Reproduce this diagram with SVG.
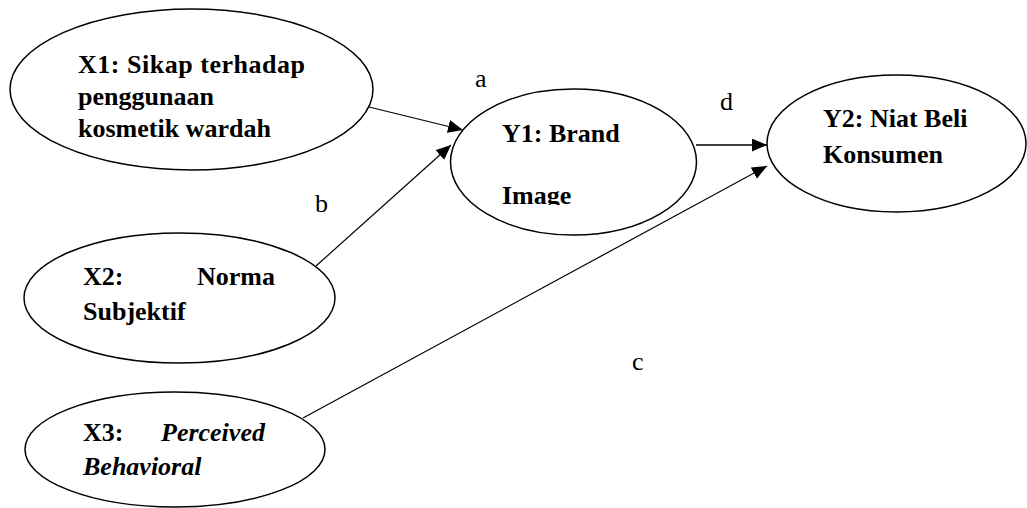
<svg xmlns="http://www.w3.org/2000/svg" width="1027" height="508" viewBox="0 0 1027 508">
<style>
  .node ellipse { fill: #ffffff; stroke: #000000; stroke-width: 1.5; }
  .t { font-family: "Liberation Serif", "Times New Roman", serif; font-size: 26px; font-weight: bold; fill: #000000; }
  .ti { font-style: italic; }
  .lbl { font-family: "Liberation Serif", "Times New Roman", serif; font-size: 26px; fill: #000000; }
  .edge { stroke: #000000; stroke-width: 1.2; fill: none; marker-end: url(#ah); }
</style>
<defs>
  <marker id="ah" markerUnits="userSpaceOnUse" markerWidth="16" markerHeight="14" refX="15" refY="6.5" orient="auto">
    <path d="M0,0 L15,6.5 L0,13 Z" fill="#000000"/>
  </marker>
  <clipPath id="clipY1">
    <rect x="450" y="100" width="246" height="105"/>
  </clipPath>
</defs>
<rect width="1027" height="508" fill="#ffffff"/>

<g id="connectors">
  <line class="edge" x1="369" y1="107" x2="463" y2="130"/>
  <line class="edge" x1="316" y1="266" x2="451" y2="145"/>
  <line class="edge" x1="303" y1="418" x2="767" y2="166"/>
  <line class="edge" x1="696" y1="145" x2="767" y2="145" style="stroke-width:1.5"/>
</g>

<g id="node-x1" class="node">
  <ellipse cx="191.5" cy="89.5" rx="181.5" ry="80.5"/>
  <text class="t" x="78" y="73" textLength="227" lengthAdjust="spacing">X1: Sikap terhadap</text>
  <text class="t" x="78" y="105">penggunaan</text>
  <text class="t" x="78" y="136.5">kosmetik wardah</text>
</g>

<g id="node-x2" class="node">
  <ellipse cx="179.5" cy="298" rx="155.5" ry="65"/>
  <text class="t" y="285"><tspan x="83">X2:</tspan><tspan x="197">Norma</tspan></text>
  <text class="t" x="83" y="320">Subjektif</text>
</g>

<g id="node-x3" class="node">
  <ellipse cx="175" cy="449.5" rx="150" ry="57.5"/>
  <text class="t" y="440.5"><tspan x="83">X3:</tspan><tspan x="161" class="ti">Perceived</tspan></text>
  <text class="t ti" x="83" y="475">Behavioral</text>
</g>

<g id="node-y1" class="node">
  <ellipse cx="573.5" cy="162" rx="123" ry="73"/>
  <text class="t" x="502" y="142">Y1: Brand</text>
  <text class="t" x="502" y="203.5" clip-path="url(#clipY1)">Image</text>
</g>

<g id="node-y2" class="node">
  <ellipse cx="896.5" cy="143.5" rx="129.5" ry="68.5"/>
  <text class="t" x="823" y="127">Y2: Niat Beli</text>
  <text class="t" x="823" y="163">Konsumen</text>
</g>

<g id="labels">
  <text class="lbl" x="475" y="87">a</text>
  <text class="lbl" x="315" y="212">b</text>
  <text class="lbl" x="632" y="370">c</text>
  <text class="lbl" x="720" y="110">d</text>
</g>
</svg>
